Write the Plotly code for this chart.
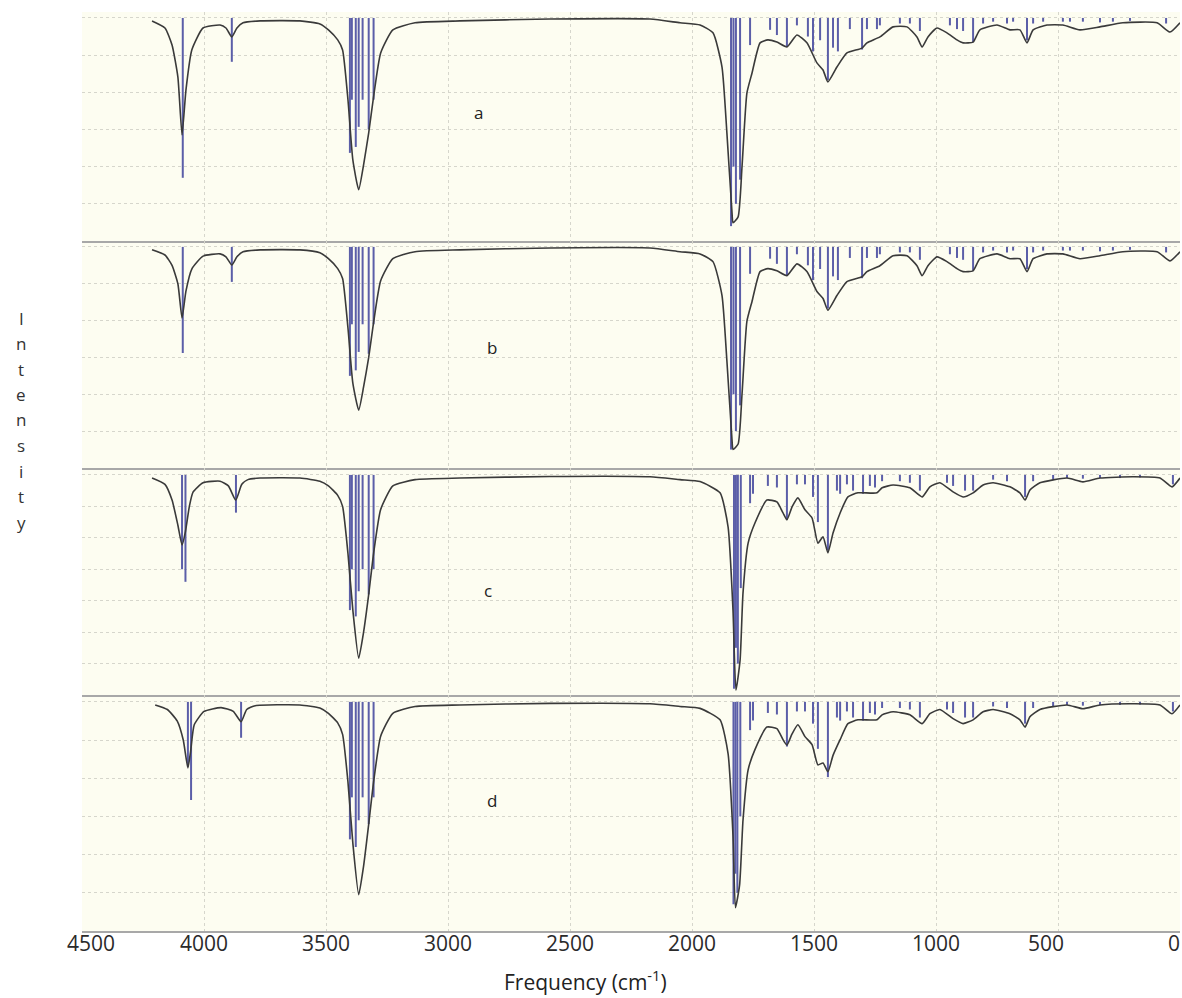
import plotly.graph_objects as go

# ---------------- data (frequency in cm-1, intensity in grid units, downward) ----------------
freq_ab = [4213, 4160, 4131, 4107, 4090, 4074, 4050, 4004, 3934, 3910,
           3886, 3865, 3840, 3770, 3607, 3525, 3490, 3452, 3432, 3410,
           3390, 3366, 3346, 3325, 3305, 3276, 3226, 3135, 2951, 2582,
           2172, 2049, 1967, 1914, 1877, 1857, 1836, 1832, 1811, 1795,
           1775, 1754, 1721, 1689, 1652, 1611, 1570, 1529, 1488, 1463,
           1443, 1406, 1365, 1303, 1283, 1230, 1176, 1119, 1078, 1057,
           1033, 996, 955, 914, 889, 848, 820, 750, 697, 656,
           627, 602, 545, 480, 410, 328, 234, 94, 41, 0]
int_a = [0.08, 0.27, 0.73, 1.59, 3.15, 1.94, 0.86, 0.27, 0.19, 0.27,
         0.51, 0.27, 0.13, 0.08, 0.08, 0.16, 0.32, 0.59, 0.86, 2.2,
         3.82, 4.62, 3.95, 3.09, 2.12, 0.94, 0.32, 0.13, 0.08, 0.03,
         0.03, 0.13, 0.19, 0.40, 1.32, 3.09, 5.24, 5.51, 5.35, 4.0,
         2.02, 1.48, 0.67, 0.59, 0.65, 0.78, 0.46, 0.67, 1.21, 1.40,
         1.72, 1.32, 0.94, 0.81, 0.67, 0.51, 0.24, 0.24, 0.51, 0.78,
         0.51, 0.27, 0.40, 0.59, 0.67, 0.65, 0.32, 0.19, 0.32, 0.32,
         0.67, 0.32, 0.19, 0.19, 0.32, 0.24, 0.13, 0.13, 0.38, 0.13]
int_b = [0.08, 0.22, 0.50, 1.00, 1.93, 1.20, 0.60, 0.25, 0.19, 0.27,
         0.49, 0.27, 0.13, 0.08, 0.08, 0.16, 0.32, 0.59, 0.86, 2.2,
         3.70, 4.43, 3.80, 3.00, 2.05, 0.92, 0.32, 0.13, 0.08, 0.03,
         0.03, 0.13, 0.19, 0.40, 1.32, 3.09, 5.24, 5.50, 5.35, 4.0,
         2.02, 1.48, 0.67, 0.59, 0.65, 0.78, 0.46, 0.67, 1.21, 1.40,
         1.72, 1.32, 0.94, 0.81, 0.67, 0.51, 0.24, 0.24, 0.51, 0.78,
         0.51, 0.27, 0.40, 0.59, 0.67, 0.65, 0.32, 0.19, 0.32, 0.32,
         0.67, 0.32, 0.19, 0.19, 0.32, 0.24, 0.13, 0.13, 0.38, 0.13]

freq_c = [4213, 4160, 4131, 4107, 4090, 4076, 4060, 4045, 4004, 3934,
          3900, 3870, 3845, 3820, 3770, 3607, 3525, 3490, 3452, 3432,
          3410, 3390, 3366, 3346, 3325, 3305, 3276, 3226, 3135, 2951,
          2582, 2172, 2049, 1967, 1885, 1852, 1832, 1820, 1803, 1791,
          1770, 1742, 1693, 1652, 1627, 1611, 1590, 1566, 1537, 1508,
          1484, 1463, 1443, 1422, 1393, 1361, 1320, 1242, 1221, 1176,
          1107, 1057, 1025, 984, 930, 889, 848, 807, 766, 697,
          656, 635, 615, 574, 463, 398, 328, 193, 82, 33, 0]
int_c = [0.10, 0.30, 0.80, 1.60, 2.23, 1.80, 1.00, 0.55, 0.25, 0.20,
         0.35, 0.80, 0.30, 0.15, 0.10, 0.10, 0.20, 0.35, 0.65, 1.00,
         2.50, 4.30, 5.83, 5.00, 3.80, 2.50, 1.10, 0.35, 0.15, 0.10,
         0.05, 0.06, 0.15, 0.21, 0.57, 1.66, 4.30, 6.85, 5.90, 3.76,
         2.17, 1.53, 0.80, 0.86, 1.21, 1.43, 1.02, 0.73, 1.11, 1.37,
         2.17, 1.97, 2.48, 1.85, 1.21, 0.70, 0.57, 0.57, 0.41, 0.32,
         0.41, 0.70, 0.38, 0.25, 0.54, 0.70, 0.57, 0.32, 0.25, 0.38,
         0.57, 0.80, 0.48, 0.25, 0.10, 0.22, 0.10, 0.06, 0.10, 0.38, 0.10]

freq_d = [4200, 4150, 4110, 4085, 4066, 4055, 4040, 4000, 3930, 3880,
          3848, 3825, 3790, 3607, 3525, 3490, 3452, 3432, 3410, 3390,
          3366, 3346, 3325, 3305, 3276, 3226, 3135, 2951, 2582, 2172,
          2049, 1967, 1885, 1852, 1832, 1822, 1805, 1791, 1770, 1742,
          1693, 1652, 1627, 1611, 1590, 1566, 1537, 1508, 1484, 1463,
          1443, 1422, 1393, 1361, 1320, 1242, 1221, 1176, 1107, 1057,
          1025, 984, 930, 889, 848, 807, 766, 697, 656, 635,
          615, 574, 463, 398, 328, 193, 82, 33, 0]
int_d = [0.08, 0.20, 0.50, 1.00, 1.73, 1.30, 0.60, 0.25, 0.15, 0.25,
         0.52, 0.20, 0.10, 0.08, 0.16, 0.30, 0.55, 0.85, 2.10, 3.70,
         5.05, 4.30, 3.20, 2.10, 0.90, 0.30, 0.12, 0.08, 0.04, 0.05,
         0.12, 0.17, 0.47, 1.36, 3.50, 5.39, 4.80, 3.10, 1.78, 1.25,
         0.66, 0.70, 0.99, 1.13, 0.84, 0.60, 0.91, 1.12, 1.65, 1.60,
         1.83, 1.40, 0.99, 0.57, 0.47, 0.47, 0.34, 0.26, 0.34, 0.57,
         0.31, 0.20, 0.44, 0.57, 0.47, 0.26, 0.20, 0.31, 0.47, 0.66,
         0.39, 0.20, 0.08, 0.18, 0.08, 0.05, 0.08, 0.31, 0.08]

stick_f_ab = [4087, 3886, 3402, 3394, 3378, 3366, 3350, 3325, 3305, 1840,
              1830, 1820, 1803, 1762, 1680, 1652, 1611, 1570, 1525, 1504,
              1475, 1443, 1422, 1402, 1353, 1303, 1283, 1242, 1230, 1148,
              1107, 1066, 943, 914, 889, 848, 807, 766, 709, 684,
              627, 602, 561, 480, 451, 398, 328, 275, 205, 57]
stick_i_a = [4.3, 1.18, 3.63, 2.2, 3.47, 2.93, 2.2, 3.0, 2.2, 5.6,
             4.0, 5.0, 4.35, 0.73, 0.32, 0.46, 0.78, 0.2, 0.5, 0.9,
             0.6, 1.67, 0.8, 0.9, 0.3, 0.85, 0.3, 0.3, 0.2, 0.15,
             0.15, 0.35, 0.2, 0.3, 0.35, 0.65, 0.15, 0.1, 0.15, 0.1,
             0.6, 0.15, 0.1, 0.1, 0.1, 0.1, 0.12, 0.1, 0.08, 0.15]
stick_i_b = [2.88, 0.95, 3.5, 2.1, 3.35, 2.85, 2.1, 2.9, 2.1, 5.5,
             4.0, 5.0, 4.3, 0.73, 0.32, 0.46, 0.78, 0.2, 0.5, 0.9,
             0.6, 1.67, 0.8, 0.9, 0.3, 0.85, 0.3, 0.3, 0.2, 0.15,
             0.15, 0.35, 0.2, 0.3, 0.35, 0.65, 0.15, 0.1, 0.15, 0.1,
             0.6, 0.15, 0.1, 0.1, 0.1, 0.1, 0.12, 0.1, 0.08, 0.15]
stick_f_c = [4090, 4076, 3869, 3402, 3394, 3378, 3366, 3350, 3325, 3305,
             1828, 1820, 1812, 1800, 1762, 1750, 1689, 1652, 1611, 1570,
             1537, 1504, 1484, 1443, 1406, 1393, 1365, 1340, 1299, 1271,
             1250, 1221, 1148, 1107, 1066, 955, 930, 881, 848, 766,
             709, 635, 602, 520, 463, 398, 328, 246, 164, 29]
stick_i_c = [3.0, 3.4, 1.2, 4.3, 3.0, 4.5, 3.7, 3.0, 3.8, 3.0,
             6.8, 5.5, 6.0, 3.6, 0.9, 0.6, 0.35, 0.4, 1.43, 0.3,
             0.3, 0.7, 1.5, 2.4, 0.5, 0.6, 0.3, 0.5, 0.6, 0.35,
             0.4, 0.2, 0.2, 0.25, 0.5, 0.25, 0.35, 0.5, 0.5, 0.15,
             0.2, 0.7, 0.2, 0.15, 0.1, 0.12, 0.1, 0.1, 0.08, 0.3]
stick_f_d = [4066, 4053, 3848, 3402, 3394, 3378, 3366, 3350, 3325, 3305,
             1830, 1822, 1814, 1802, 1762, 1750, 1689, 1652, 1611, 1570,
             1537, 1504, 1484, 1443, 1406, 1393, 1365, 1340, 1299, 1271,
             1250, 1221, 1148, 1107, 1066, 955, 930, 881, 848, 766,
             709, 635, 602, 520, 463, 398, 328, 246, 164, 29]
stick_i_d = [1.7, 2.57, 0.94, 3.6, 2.5, 3.8, 3.1, 2.5, 3.2, 2.5,
             5.3, 4.5, 5.0, 3.0, 0.74, 0.49, 0.29, 0.33, 1.17, 0.25,
             0.25, 0.57, 1.23, 1.97, 0.41, 0.49, 0.25, 0.41, 0.49, 0.29,
             0.33, 0.16, 0.16, 0.2, 0.41, 0.2, 0.29, 0.41, 0.41, 0.12,
             0.16, 0.57, 0.16, 0.12, 0.08, 0.1, 0.08, 0.08, 0.07, 0.25]

panel_labels = ["a", "b", "c", "d"]
x_ticks = [4500, 4000, 3500, 3000, 2500, 2000, 1500, 1000, 500, 0]
x_tick_text = ["4500", "4000", "3500", "3000", "2500", "2000", "1500", "1000", "500", "0"]
y_label_letters = list("Intensity")
x_title = "Frequency (cm<sup>-1</sup>)"

panels = [
    (freq_ab, int_a, stick_f_ab, stick_i_a),
    (freq_ab, int_b, stick_f_ab, stick_i_b),
    (freq_c, int_c, stick_f_c, stick_i_c),
    (freq_d, int_d, stick_f_d, stick_i_d),
]

# ---------------- layout geometry ----------------
W, H = 1182, 998
top_px, bot_px, left_px, right_px = 12, 931, 82, 1180
panel_edges_px = [12, 241, 468, 695, 931]
y_ranges = [[6, -0.16], [6, -0.16], [7, -0.22], [6, -0.18]]
plot_h = bot_px - top_px

def py(p):
    return (bot_px - p) / plot_h

def px(p):
    return (p - left_px) / (right_px - left_px)

BG = "#fdfdf1"
GRID = "#d6d6cc"
STICK = "#5b5ea8"
CURVE = "#3a3a3a"
FONT = "Open Sans"

fig = go.Figure()
for k, (fr, it, sf, si) in enumerate(panels):
    n = k + 1
    xs, ys = [], []
    for f, v in zip(sf, si):
        xs += [f, f, None]
        ys += [0, v, None]
    fig.add_trace(go.Scatter(x=xs, y=ys, mode="lines",
                             line=dict(color=STICK, width=2),
                             xaxis=f"x{n}", yaxis=f"y{n}",
                             showlegend=False, hoverinfo="skip"))
    fig.add_trace(go.Scatter(x=fr, y=it, mode="lines",
                             line=dict(color=CURVE, width=1.6, shape="spline", smoothing=0.5),
                             xaxis=f"x{n}", yaxis=f"y{n}",
                             showlegend=False))

for k in range(4):
    n = k + 1
    dom = [py(panel_edges_px[k + 1]), py(panel_edges_px[k])]
    xa = dict(range=[4500, 0], domain=[0, 1], anchor=f"y{n}",
              showgrid=True, gridcolor=GRID, griddash="dot", gridwidth=1,
              tickvals=x_ticks, zeroline=False,
              showline=True, linecolor="#a8a8a8", linewidth=1.5,
              ticks="", showticklabels=False)
    if n > 1:
        xa["matches"] = "x"
    ya = dict(range=y_ranges[k], domain=dom, anchor=f"x{n}",
              showgrid=True, gridcolor=GRID, griddash="dot", gridwidth=1,
              dtick=1, tick0=0, zeroline=False, showticklabels=False,
              ticks="", showline=False)
    fig.layout[f"xaxis{n}" if n > 1 else "xaxis"] = xa
    fig.layout[f"yaxis{n}" if n > 1 else "yaxis"] = ya

annotations = []
tick_shift = {4500: 9, 500: -12, 0: -6}
for v, t in zip(x_ticks, x_tick_text):
    annotations.append(dict(x=v, y=py(943), xref="x4", yref="paper",
                            xanchor="center", yanchor="middle",
                            xshift=tick_shift.get(v, 0),
                            text=t, showarrow=False,
                            font=dict(family=FONT, size=21, color="#2a2a2a")))
label_pos = [(478, 112), (492, 347), (488, 590), (492, 800)]
for lab, (lx, ly) in zip(panel_labels, label_pos):
    annotations.append(dict(x=px(lx), y=py(ly), xref="paper", yref="paper",
                            xanchor="center", yanchor="middle",
                            text=lab, showarrow=False,
                            font=dict(family=FONT, size=17, color="#222222")))
for i, ch in enumerate(y_label_letters):
    annotations.append(dict(x=px(21), y=py(318 + i * 25.5), xref="paper", yref="paper",
                            xanchor="center", yanchor="middle",
                            text=ch, showarrow=False,
                            font=dict(family=FONT, size=17, color="#333333")))
annotations.append(dict(x=px(585), y=py(980), xref="paper", yref="paper",
                        xanchor="center", yanchor="middle",
                        text=x_title, showarrow=False,
                        font=dict(family=FONT, size=21, color="#222222")))

fig.update_layout(width=W, height=H,
                  margin=dict(l=left_px, r=W - right_px, t=top_px, b=H - bot_px),
                  paper_bgcolor="white", plot_bgcolor=BG,
                  annotations=annotations, showlegend=False)

fig.write_html("out.html")
